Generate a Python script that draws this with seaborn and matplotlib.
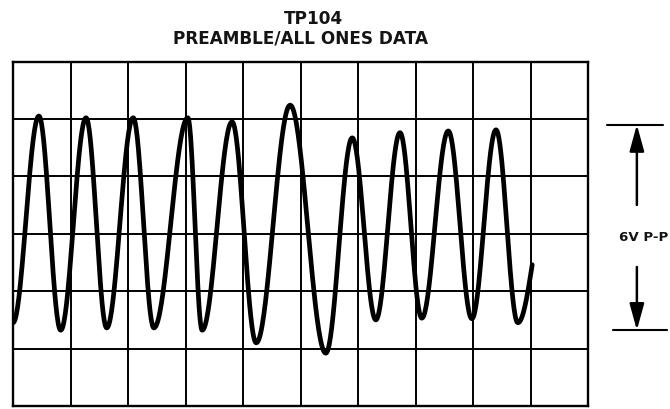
import numpy as np
import pandas as pd
import matplotlib
matplotlib.use("Agg")
import matplotlib.pyplot as plt
import seaborn as sns

# Scope trace extrema, in graticule divisions (10 x 6 grid)
extrema_x = [0.00, 0.45, 0.83, 1.27, 1.63, 2.09, 2.45, 3.04, 3.29, 3.81, 4.23,
             4.82, 5.44, 5.90, 6.31, 6.73, 7.11, 7.57, 7.98, 8.40, 8.78]
extrema_y = [1.45, 5.05, 1.32, 5.02, 1.36, 5.02, 1.36, 5.02, 1.32, 4.95, 1.10,
             5.24, 0.92, 4.67, 1.50, 4.76, 1.53, 4.79, 1.52, 4.81, 1.45]
# where the sweep stops, part way up the last rising edge
trace_end_x = 9.03
trace_end_y = 2.46

title_lines = ["TP104", "PREAMBLE/ALL ONES DATA"]
span_label = "6V P-P"
span_top = 4.90
span_bottom = 1.32

n_cols, n_rows = 10, 6

# Build the trace: half-cosine swings between successive extrema
xs, ys = [], []
for i in range(len(extrema_x) - 1):
    t = np.linspace(0, 1, 40, endpoint=False)
    x0, x1 = extrema_x[i], extrema_x[i + 1]
    y0, y1 = extrema_y[i], extrema_y[i + 1]
    xs.append(x0 + (x1 - x0) * t)
    ys.append(y0 + (y1 - y0) * (1 - np.cos(np.pi * t)) / 2)
# last partial swing: from trough up to the steepest point
t = np.linspace(0, 1, 30)
xs.append(extrema_x[-1] + (trace_end_x - extrema_x[-1]) * t)
ys.append(extrema_y[-1] + (trace_end_y - extrema_y[-1]) * (1 - np.cos(np.pi / 2 * t)))
trace = pd.DataFrame({"t": np.concatenate(xs), "v": np.concatenate(ys)})

sns.set_theme(style="white")
plt.rcParams["font.family"] = ["DejaVu Sans"]

fig = plt.figure(figsize=(6.70, 4.09), dpi=100)
ax = fig.add_axes([13 / 670, 1 - 406 / 409, 575 / 670, 344.5 / 409])

sns.lineplot(data=trace, x="t", y="v", ax=ax, color="black", linewidth=3.4,
             sort=False, estimator=None, solid_capstyle="round")

ax.set_xlim(0, n_cols)
ax.set_ylim(0, n_rows)
ax.set_xticks(range(n_cols + 1))
ax.set_yticks(range(n_rows + 1))
ax.grid(True, color="black", linewidth=1.4)
ax.tick_params(length=0, labelbottom=False, labelleft=False)
ax.set_xlabel("")
ax.set_ylabel("")
for s in ax.spines.values():
    s.set_visible(True)
    s.set_color("black")
    s.set_linewidth(1.7)

# Titles
title_kw = dict(ha="center", va="center", fontsize=12.2, fontweight="bold",
                color="#141414")
fig.text(313 / 670, 1 - 18.5 / 409, title_lines[0], **title_kw)
fig.text(300.5 / 670, 1 - 38.5 / 409, title_lines[1], **title_kw)

# Peak-to-peak span marker to the right of the graticule
ax.plot([10.33, 11.30], [span_top, span_top], color="black", lw=1.5, clip_on=False)
ax.plot([10.43, 11.37], [span_bottom, span_bottom], color="black", lw=1.5, clip_on=False)
xa = 10.85
arrow_kw = dict(arrowstyle="-|>,head_length=0.8,head_width=0.22", color="black",
                lw=1.8, mutation_scale=20, shrinkA=0, shrinkB=0)
ax.annotate("", xy=(xa, span_top), xytext=(xa, (406 - 205) / 57.4),
            arrowprops=arrow_kw, annotation_clip=False)
ax.annotate("", xy=(xa, span_bottom), xytext=(xa, (406 - 267) / 57.4),
            arrowprops=arrow_kw, annotation_clip=False)
ax.text(10.96, (406 - 238) / 57.4, span_label, ha="center", va="center",
        fontsize=9.6, fontweight="bold", color="#141414", clip_on=False)

fig.savefig("out.png", dpi=100)
